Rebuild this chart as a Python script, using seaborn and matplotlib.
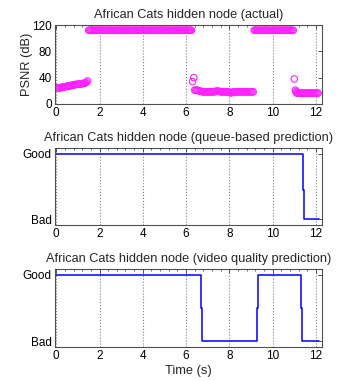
import numpy as np
import pandas as pd
import matplotlib
matplotlib.use("Agg")
import matplotlib.pyplot as plt
from matplotlib.ticker import MultipleLocator
import seaborn as sns

# ---------------- data ----------------
title_actual = "African Cats hidden node (actual)"
title_queue = "African Cats hidden node (queue-based prediction)"
title_video = "African Cats hidden node (video quality prediction)"

# PSNR samples (0.05 s spacing inside segments)
seg1_t0, seg1_vals = 0.00, [25, 24.5, 24, 24.5, 25, 25, 25.5, 26, 26, 26.5, 27, 27, 27.5, 28, 28,
                            28.5, 29, 29, 29.5, 30, 30, 30, 30.5, 30.5, 31, 31, 31.5, 32, 33, 35]
seg2_t0, seg2_vals = 1.50, [112] * 96
seg3_t, seg3_vals = [6.30, 6.36], [34, 40]
seg4_t0, seg4_vals = 6.40, [21, 21, 21, 20.5, 20, 19.5, 19, 18.5, 18.5, 18.5, 18.5, 18.5, 18.5, 18.5,
                            18.5, 18.5, 18.5, 18.5, 18.5, 19, 19.5, 19.5, 19.5, 19, 18.5, 18.5, 18.5,
                            18.5, 18.5, 18.5, 18.5, 18, 18, 17, 17, 18, 18, 18.5, 18.5, 18.5, 18.5,
                            18.5, 18.5, 18.5, 18.5, 18.5, 18.5, 18.5, 18.5, 18.5, 18.5, 18.5, 18.5,
                            18.5, 18.5]
seg5_t0, seg5_vals = 9.15, [112] * 37
seg6_t, seg6_vals = [11.00, 11.05, 11.08], [38, 21, 19]
seg7_t0, seg7_vals = 11.10, [17, 16.5, 16.5, 16.5, 16.5, 16.5, 16.5, 16.5, 16.5, 16.5, 16.5,
                             16.5, 16.5, 16.5, 16.5, 16.5, 16.5, 16.5, 16.5, 16.5, 16.5]

queue_t = [0.0, 11.40, 11.40, 11.45, 11.45, 12.15]
queue_v = [1, 1, 0.45, 0.45, 0, 0]

video_t = [0.0, 6.68, 6.68, 6.72, 6.72, 9.28, 9.28, 9.32, 9.32, 11.30, 11.30, 11.34, 11.34, 12.15]
video_v = [1, 1, 0.5, 0.5, 0, 0, 0.5, 0.5, 1, 1, 0.5, 0.5, 0, 0]

x_ticks = [0, 2, 4, 6, 8, 10, 12]
psnr_ticks = [0, 40, 80, 120]
state_labels = ["Bad", "Good"]


def seg_times(t0, vals):
    return [round(t0 + 0.05 * i, 3) for i in range(len(vals))]


psnr_t = (seg_times(seg1_t0, seg1_vals) + seg_times(seg2_t0, seg2_vals) + seg3_t +
          seg_times(seg4_t0, seg4_vals) + seg_times(seg5_t0, seg5_vals) + seg6_t +
          seg_times(seg7_t0, seg7_vals))
psnr_v = seg1_vals + seg2_vals + seg3_vals + seg4_vals + seg5_vals + seg6_vals + seg7_vals
psnr_df = pd.DataFrame({"t": psnr_t, "psnr": psnr_v})
queue_df = pd.DataFrame({"t": queue_t, "v": queue_v})
video_df = pd.DataFrame({"t": video_t, "v": video_v})

# ---------------- style ----------------
sns.set_theme(style="white")
plt.rcParams["font.family"] = ["Liberation Sans", "DejaVu Sans"]

fig = plt.figure(figsize=(3.37, 3.81), dpi=100)
W, H = 337, 381


def add_axes(left, top, right, bottom):
    return fig.add_axes([left / W, 1 - bottom / H, (right - left) / W, (bottom - top) / H])


ax1 = add_axes(54.5, 25, 322, 104)
ax2 = add_axes(54.5, 148, 322, 225)
ax3 = add_axes(54.5, 269, 322, 347)

sns.scatterplot(data=psnr_df, x="t", y="psnr", ax=ax1, marker="o", s=22,
                facecolors="none", edgecolor="#ff22ff", linewidth=0.8, legend=False)
sns.lineplot(data=queue_df, x="t", y="v", ax=ax2, sort=False, estimator=None,
             color="#0000ff", linewidth=1.1)
sns.lineplot(data=video_df, x="t", y="v", ax=ax3, sort=False, estimator=None,
             color="#0000ff", linewidth=1.1)

for ax, title in [(ax1, title_actual), (ax2, title_queue), (ax3, title_video)]:
    ax.set_xlim(-0.08, 12.28)
    ax.set_xticks(x_ticks)
    ax.xaxis.set_minor_locator(MultipleLocator(0.4))
    ax.set_title(title, fontsize=9.2, pad=5)
    ax.set_xlabel("")
    ax.set_ylabel("")
    for s in ax.spines.values():
        s.set_color("#505050")
        s.set_linewidth(0.8)
    ax.tick_params(axis="both", which="both", direction="in", top=True, right=True,
                   colors="#505050", labelcolor="black", labelsize=8.5, pad=2)
    ax.tick_params(which="major", length=3, width=0.7)
    ax.tick_params(which="minor", length=1.5, width=0.6)
    ax.xaxis.grid(True, which="major", linestyle=":", color="#808080", linewidth=0.8)
    ax.yaxis.grid(False)
    ax.set_axisbelow(True)

ax1.set_ylim(0, 120)
ax1.set_yticks(psnr_ticks)
ax1.set_ylabel("PSNR (dB)", fontsize=9.3, labelpad=-1)

for ax in (ax2, ax3):
    ax.set_ylim(-0.085, 1.085)
    ax.set_yticks([0, 1])
    ax.set_yticklabels(state_labels)

ax3.set_xlabel("Time (s)", fontsize=9.3, labelpad=2)

fig.savefig("out.png", dpi=100)
